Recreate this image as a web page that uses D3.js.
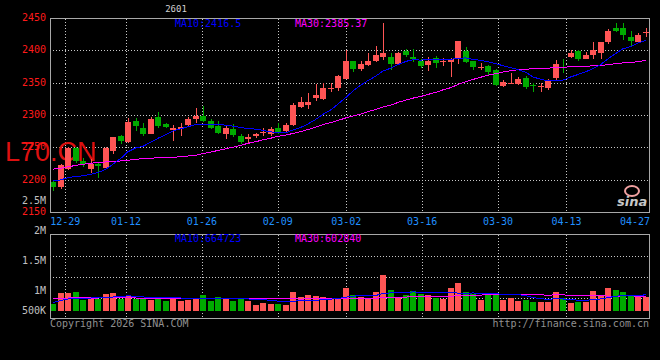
<!DOCTYPE html>
<html><head><meta charset="utf-8">
<script src="https://cdn.jsdelivr.net/npm/d3@7/dist/d3.min.js"></script>
<style>html,body{margin:0;padding:0;background:#000;overflow:hidden}</style>
</head><body>
<svg id="c" width="660" height="360"></svg>
<script>
const dates=["12-25","12-26","12-29","12-30","12-31","01-05","01-06","01-07","01-08","01-09","01-12","01-13","01-14","01-15","01-16","01-19","01-20","01-21","01-22","01-23","01-26","01-27","01-28","01-29","01-30","02-02","02-03","02-04","02-05","02-06","02-09","02-10","02-11","02-12","02-13","02-24","02-25","02-26","02-27","03-02","03-03","03-04","03-05","03-06","03-09","03-10","03-11","03-12","03-13","03-16","03-17","03-18","03-19","03-20","03-23","03-24","03-25","03-26","03-27","03-30","03-31","04-01","04-02","04-03","04-07","04-08","04-09","04-10","04-13","04-14","04-15","04-16","04-17","04-20","04-21","04-22","04-23","04-24","04-27","04-28"];
const open=[2197,2189,2218,2250,2230,2218,2225,2219,2245,2269,2259,2292,2280,2272,2298,2287,2277,2279,2285,2294,2300,2292,2284,2272,2279,2268,2263,2268,2273,2271,2281,2276,2285,2313,2316,2327,2326,2341,2343,2357,2384,2372,2378,2385,2391,2390,2380,2400,2391,2384,2378,2389,2383,2383,2388,2400,2384,2374,2376,2370,2346,2349,2349,2358,2347,2344,2342,2358,2375,2391,2400,2388,2393,2396,2414,2436,2436,2421,2414,2428];
const high=[2199,2225,2252,2252,2234,2233,2227,2251,2267,2270,2296,2296,2288,2297,2305,2289,2285,2288,2297,2311,2315,2294,2292,2283,2287,2272,2272,2273,2281,2282,2288,2289,2319,2328,2335,2349,2350,2351,2363,2401,2385,2385,2396,2407,2443,2396,2398,2403,2403,2387,2391,2392,2389,2389,2415,2406,2385,2381,2378,2372,2355,2366,2359,2361,2350,2350,2356,2386,2388,2401,2401,2398,2413,2414,2433,2443,2443,2430,2427,2436];
const low=[2184,2187,2215,2226,2221,2211,2203,2217,2241,2256,2257,2276,2268,2272,2280,2280,2261,2269,2283,2288,2290,2279,2271,2264,2266,2256,2258,2265,2268,2269,2271,2274,2283,2311,2310,2323,2324,2336,2338,2356,2367,2369,2376,2383,2386,2371,2378,2391,2383,2373,2369,2374,2377,2360,2379,2381,2370,2371,2362,2345,2344,2348,2347,2341,2337,2337,2340,2354,2366,2389,2385,2387,2387,2388,2411,2429,2417,2408,2412,2421];
const close=[2189,2223,2249,2230,2225,2225,2222,2249,2266,2261,2290,2284,2272,2295,2284,2282,2280,2282,2295,2300,2292,2281,2273,2281,2270,2259,2267,2271,2275,2279,2273,2286,2317,2321,2321,2332,2343,2343,2361,2384,2372,2379,2384,2393,2396,2379,2396,2393,2387,2377,2385,2381,2385,2388,2415,2383,2375,2375,2368,2347,2352,2350,2356,2344,2346,2346,2354,2379,2374,2397,2388,2394,2401,2413,2431,2431,2424,2415,2425,2429];
const ma10=[2199,2200.5,2204,2205.6,2206.7,2209.2,2211.8,2217,2224.6,2233.9,2244.0,2250.1,2252.4,2258.9,2264.8,2270.5,2276.3,2279.6,2282.5,2286.4,2286.6,2286.3,2286.4,2285.0,2283.6,2281.3,2280.0,2278.9,2276.9,2274.8,2272.9,2273.4,2277.8,2281.8,2286.9,2294.2,2301.8,2309.0,2317.6,2328.1,2338.0,2347.3,2354.0,2361.2,2368.7,2373.4,2378.7,2383.7,2386.3,2385.6,2386.9,2387.1,2387.2,2386.7,2388.6,2389.0,2386.9,2385.1,2383.2,2380.2,2376.9,2373.8,2370.9,2366.5,2359.6,2355.9,2353.8,2354.2,2354.8,2359.8,2363.4,2367.8,2372.3,2379.2,2387.7,2396.2,2403.2,2406.8,2411.9,2416.5];
const ma30=[2217,2218.5,2220.5,2223,2224.6,2226.2,2227.2,2228.2,2228.7,2229.7,2230.8,2232.3,2233.3,2233.8,2234.9,2235.2,2235.5,2236.2,2237.4,2238.5,2241,2243.5,2246,2248.5,2251,2254,2257,2259.5,2262.5,2265.0,2267.8,2269.9,2272.2,2275.2,2278.4,2282.0,2286.0,2289.2,2292.3,2296.4,2299.2,2302.3,2306.1,2309.3,2313.1,2316.3,2320.2,2323.9,2326.9,2329.5,2332.6,2335.9,2339.7,2343.2,2348.1,2352.2,2355.8,2359.3,2362.4,2364.6,2367.3,2369.4,2370.7,2371.5,2372.3,2372.8,2373.1,2374.3,2374.8,2375.2,2375.7,2376.2,2376.8,2377.5,2378.6,2380.4,2381.3,2382.0,2383.3,2385.37];
const volume=[287000,738000,738000,779000,451000,480000,480000,697000,738000,504000,627000,504000,504000,451000,574000,422000,574000,422000,451000,533000,656000,422000,574000,504000,422000,533000,422000,246000,328000,287000,287000,258000,779000,574000,656000,615000,574000,533000,492000,943000,656000,586000,545000,779000,1476000,861000,521000,656000,820000,685000,656000,545000,492000,943000,1148000,779000,685000,451000,656000,697000,451000,521000,410000,451000,369000,369000,369000,779000,521000,328000,369000,369000,820000,656000,943000,861000,779000,615000,615000,586000];
const volMa10=[349000,431000,492000,513000,533000,533000,554000,574000,574000,589000,623000,600000,576000,544000,556000,550000,560000,532000,503000,506000,509000,501000,508000,513000,498000,509000,494000,476000,464000,440000,403000,386000,407000,414000,437000,445000,460000,489000,506000,571000,608000,641000,617000,638000,720000,745000,739000,752000,784000,759000,759000,754000,749000,765000,733000,724000,741000,720000,704000,705000,685000,682000,674000,625000,547000,506000,474000,507000,494000,457000,449000,433000,474000,495000,552000,601000,642000,626000,636000,664723];
const volMa30=[528000,530000,533000,535000,535000,533000,533000,535000,536000,535000,535000,533000,530000,528000,527000,525000,525000,523000,520000,518000,518000,516000,515000,514000,513000,513000,512000,512000,511000,512000,512000,496000,497000,490000,497000,501000,505000,499000,491000,506000,507000,509000,511000,522000,552000,566000,565000,572000,585000,590000,590000,594000,591000,606000,630000,638000,647000,654000,665000,678000,684000,692000,680000,676000,667000,658000,651000,660000,661000,640000,631000,623000,633000,629000,610000,610000,619000,618000,611000,602840];
const priceTicks=[2450,2400,2350,2300,2250,2200,2150];
const priceGrid=[2400,2350,2300,2250,2200];
const dateTicks=["12-29","01-12","01-26","02-09","03-02","03-16","03-30","04-13","04-27"];
const volTicks=[2500000,2000000,1500000,1000000,500000];
const volTickLabels=["2.5M","2M","1.5M","1M","500K"];

const RED="#ff5555", GREEN="#00aa00", BLUE="#0000ff", MAG="#ff00ff";
const MONO="'DejaVu Sans Mono', monospace";
const svg=d3.select("#c");
svg.append("rect").attr("width",660).attr("height",360).attr("fill","#000");

const L=50,R=650,PT=18.5,PB=212.5,VT=234.5,VB=318.5;
const xb=d3.scaleBand().domain(dates).range([L,R]).padding(0);
const gx=d3.scaleLinear().domain([0,dates.length-1]).range([L,R]);
const yP=d3.scaleLinear().domain([2150,2450]).range([PB,PT]);
const yV=d3.scaleLinear().domain([0,2000000]).range([311,311-2000000/41000]);
const yVlab=d3.scaleLinear().domain([0,2500000]).range([350.7,200.7]);
const xc=d=>Math.round(xb(d))+3;

const gridCol="#c8c8c8", borderCol="#a8a8a8";
const gP=svg.append("g");
priceGrid.forEach(v=>{
  const y=Math.round(yP(v)-0.5)+0.5;
  gP.append("line").attr("x1",L).attr("x2",R).attr("y1",y).attr("y2",y)
    .attr("stroke",gridCol).attr("stroke-dasharray","1,2").attr("shape-rendering","crispEdges");
});
dateTicks.forEach(t=>{
  const i=dates.indexOf(t); if(i>=dates.length-2) return;
  const x=Math.round(gx(i))+0.5;
  gP.append("line").attr("x1",x).attr("x2",x).attr("y1",PT).attr("y2",PB)
    .attr("stroke",gridCol).attr("stroke-dasharray","1,2").attr("shape-rendering","crispEdges");
  gP.append("line").attr("x1",x).attr("x2",x).attr("y1",VT).attr("y2",VB)
    .attr("stroke",gridCol).attr("stroke-dasharray","1,2").attr("shape-rendering","crispEdges");
});
[1,2,3].forEach(k=>{
  const y=Math.round(VT+(VB-VT)*k/4)+0.5;
  svg.append("line").attr("x1",L).attr("x2",R).attr("y1",y).attr("y2",y)
    .attr("stroke",gridCol).attr("stroke-dasharray","1,2").attr("shape-rendering","crispEdges");
});

svg.append("text").attr("x",5).attr("y",161).attr("font-family","'Liberation Sans', Arial, sans-serif")
  .attr("font-size",27).attr("fill","#dd1010").text("L70.CN");

const gc=svg.append("g").attr("shape-rendering","crispEdges");
dates.forEach((d,i)=>{
  const up=close[i]>=open[i];
  const col=up?RED:GREEN;
  const x0=Math.round(xb(d));
  const yh=Math.round(yP(high[i])), yl=Math.round(yP(low[i]));
  gc.append("rect").attr("x",x0+3).attr("y",yh).attr("width",1).attr("height",Math.max(1,yl-yh)).attr("fill",col);
  const yt=Math.round(yP(Math.max(open[i],close[i]))), yb=Math.round(yP(Math.min(open[i],close[i])));
  gc.append("rect").attr("x",x0).attr("y",yt).attr("width",6).attr("height",Math.max(1,yb-yt)).attr("fill",col);
});

const lineP=d3.line().x((v,i)=>xc(dates[i])).y(v=>yP(v));
svg.append("path").attr("d",lineP(ma30)).attr("fill","none").attr("stroke",MAG).attr("stroke-width",1).attr("shape-rendering","crispEdges");
svg.append("path").attr("d",lineP(ma10)).attr("fill","none").attr("stroke",BLUE).attr("stroke-width",1).attr("shape-rendering","crispEdges");

const gv=svg.append("g").attr("shape-rendering","crispEdges");
dates.forEach((d,i)=>{
  const up=close[i]>=open[i];
  const x0=Math.round(xb(d));
  const yt=Math.round(yV(volume[i]));
  gv.append("rect").attr("x",x0).attr("y",yt).attr("width",6).attr("height",311-yt).attr("fill",up?RED:GREEN);
});
const lineV=d3.line().x((v,i)=>xc(dates[i])).y(v=>yV(v));
svg.append("path").attr("d",lineV(volMa30)).attr("fill","none").attr("stroke",MAG).attr("stroke-width",1).attr("shape-rendering","crispEdges");
svg.append("path").attr("d",lineV(volMa10)).attr("fill","none").attr("stroke",BLUE).attr("stroke-width",1).attr("shape-rendering","crispEdges");

const b=svg.append("g").attr("stroke",borderCol).attr("shape-rendering","crispEdges");
[[L,PT,R,PT],[L,PB,R,PB],[L+0.5,PT,L+0.5,PB],[R-0.5,PT,R-0.5,PB],
 [L,VT,R,VT],[L,VB,R,VB],[L+0.5,VT,L+0.5,VB],[R-0.5,VT,R-0.5,VB]].forEach(s=>{
  b.append("line").attr("x1",s[0]).attr("y1",s[1]).attr("x2",s[2]).attr("y2",s[3]);
});

priceTicks.forEach(v=>{
  svg.append("text").attr("x",46).attr("y",yP(v)+2.5).attr("text-anchor","end")
    .attr("font-family",MONO).attr("font-size",10).attr("fill","#ff1a1a").text(v);
});
volTicks.forEach((v,k)=>{
  const y=Math.min(yVlab(v),310);
  svg.append("text").attr("x",46).attr("y",y+3.6).attr("text-anchor","end")
    .attr("font-family",MONO).attr("font-size",10).attr("fill","#c0c0c0").text(volTickLabels[k]);
});
dateTicks.forEach(t=>{
  const i=dates.indexOf(t);
  const x=Math.min(gx(i),R-15);
  svg.append("text").attr("x",x).attr("y",225).attr("text-anchor","middle")
    .attr("font-family",MONO).attr("font-size",10).attr("fill","#2090ff").text(t);
});

const fmt=v=>String(v);
svg.append("text").attr("x",175).attr("y",27).attr("font-family",MONO).attr("font-size",10).attr("fill",BLUE).text("MA10:"+fmt(ma10[ma10.length-1]));
svg.append("text").attr("x",295).attr("y",27).attr("font-family",MONO).attr("font-size",10).attr("fill",MAG).text("MA30:"+fmt(ma30[ma30.length-1]));
svg.append("text").attr("x",175).attr("y",242).attr("font-family",MONO).attr("font-size",10).attr("fill",BLUE).text("MA10:"+fmt(volMa10[volMa10.length-1]));
svg.append("text").attr("x",295).attr("y",242).attr("font-family",MONO).attr("font-size",10).attr("fill",MAG).text("MA30:"+fmt(volMa30[volMa30.length-1]));

svg.append("text").attr("x",176).attr("y",12).attr("text-anchor","middle").attr("font-family",MONO).attr("font-size",9).attr("fill","#d0d0d0").text("2601");

svg.append("ellipse").attr("cx",632).attr("cy",191).attr("rx",7).attr("ry",5).attr("fill","none").attr("stroke","#f0a0a0").attr("stroke-width",2);
svg.append("text").attr("x",617).attr("y",206).attr("font-family","'DejaVu Sans', sans-serif").attr("font-style","italic").attr("font-weight","bold").attr("font-size",13).attr("fill","#c8c8c8").text("sina");

svg.append("text").attr("x",50).attr("y",327).attr("font-family",MONO).attr("font-size",10).attr("fill","#909090").text("Copyright 2026 SINA.COM");
svg.append("text").attr("x",649).attr("y",327).attr("text-anchor","end").attr("font-family",MONO).attr("font-size",10).attr("fill","#909090").text("http://finance.sina.com.cn");
</script>
</body></html>
